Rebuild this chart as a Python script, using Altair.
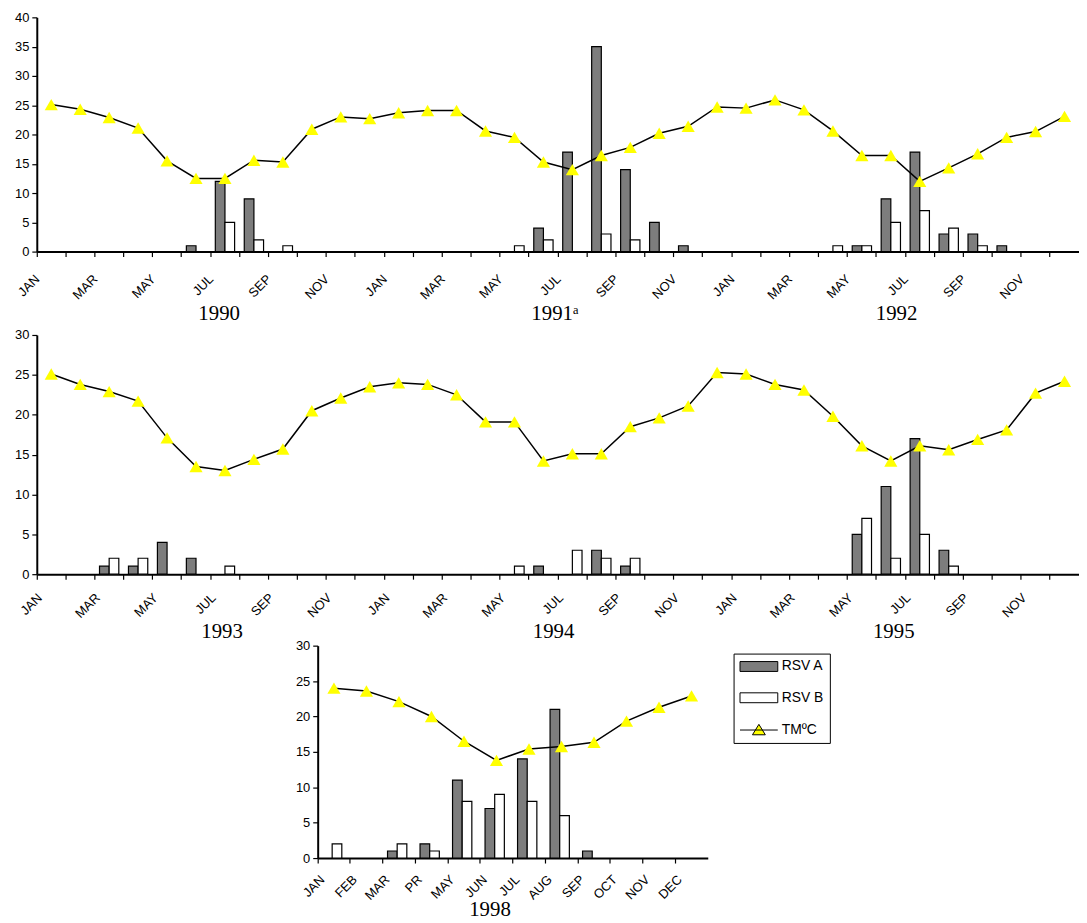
import altair as alt
import pandas as pd

# ---------------- data ----------------
MONTHS = ["JAN", "FEB", "MAR", "APR", "MAY", "JUN", "JUL", "AUG", "SEP", "OCT", "NOV", "DEC"]
MONTHS_1998 = ["JAN", "FEB", "MAR", "PR", "MAY", "JUN", "JUL", "AUG", "SEP", "OCT", "NOV", "DEC"]
SERIES = ["RSV A", "RSV B", "TMºC"]

# Panel 1: 1990-1992 (36 months)
years_top = ["1990", "1991ᵃ", "1992"]
year_pos_top = [6.3, 17.9, 29.7]          # month units along the axis
temp_top = [25.1, 24.3, 22.9, 21.1, 15.5, 12.5, 12.5, 15.6, 15.3, 20.9, 23.0, 22.7,
            23.7, 24.1, 24.1, 20.6, 19.5, 15.3, 14.0, 16.4, 17.8, 20.2, 21.4, 24.7,
            24.5, 25.9, 24.2, 20.6, 16.4, 16.4, 12.0, 14.3, 16.7, 19.5, 20.5, 23.1]
rsva_top = [0, 0, 0, 0, 0, 1, 12, 9, 0, 0, 0, 0,
            0, 0, 0, 0, 0, 4, 17, 35, 14, 5, 1, 0,
            0, 0, 0, 0, 1, 9, 17, 3, 3, 1, 0, 0]
rsvb_top = [0, 0, 0, 0, 0, 0, 5, 2, 1, 0, 0, 0,
            0, 0, 0, 0, 1, 2, 0, 3, 2, 0, 0, 0,
            0, 0, 0, 1, 1, 5, 7, 4, 1, 0, 0, 0]

# Panel 2: 1993-1995 (36 months)
years_mid = ["1993", "1994", "1995"]
year_pos_mid = [6.4, 17.85, 29.6]
temp_mid = [25.1, 23.8, 22.9, 21.7, 17.1, 13.5, 13.0, 14.4, 15.7, 20.5, 22.1, 23.5,
            24.0, 23.8, 22.5, 19.1, 19.1, 14.2, 15.1, 15.1, 18.5, 19.6, 21.1, 25.3,
            25.1, 23.8, 23.1, 19.8, 16.1, 14.2, 16.1, 15.6, 16.9, 18.1, 22.7, 24.2]
rsva_mid = [0, 0, 1, 1, 4, 2, 0, 0, 0, 0, 0, 0,
            0, 0, 0, 0, 0, 1, 0, 3, 1, 0, 0, 0,
            0, 0, 0, 0, 5, 11, 17, 3, 0, 0, 0, 0]
rsvb_mid = [0, 0, 2, 2, 0, 0, 1, 0, 0, 0, 0, 0,
            0, 0, 0, 0, 1, 0, 3, 2, 2, 0, 0, 0,
            0, 0, 0, 0, 7, 2, 5, 1, 0, 0, 0, 0]

# Panel 3: 1998 (12 months)
years_bot = ["1998"]
year_pos_bot = [5.3]
temp_bot = [24.0, 23.6, 22.1, 20.0, 16.5, 13.8, 15.4, 15.75, 16.35, 19.35, 21.3, 22.9]
rsva_bot = [0, 0, 1, 2, 11, 7, 14, 21, 1, 0, 0, 0]
rsvb_bot = [2, 0, 2, 1, 8, 9, 8, 6, 0, 0, 0, 0]

# ---------------- styling ----------------
FILL_SCALE = alt.Scale(domain=SERIES, range=["#7d7d7d", "#ffffff", "#ffff00"])
STROKE_SCALE = alt.Scale(domain=SERIES, range=["black", "black", "black"])
RECT_PATH = "M-3.17,-0.83H3.17V0.83H-3.17Z"
LINETRI_PATH = "M-3.17,0H3.17M0,-0.95L1.08,0.8L-1.08,0.8Z"
SHAPE_SCALE = alt.Scale(domain=SERIES, range=[RECT_PATH, RECT_PATH, LINETRI_PATH])
SANS = "Liberation Sans"
SERIF = "Liberation Serif"


def panel(temps, rsva, rsvb, names, every, width, height, ymax, top_gap,
          year_labels, year_pos, year_dy, label_pad, label_off, legend=None):
    n = len(temps)
    idx = list(range(1, n + 1))
    rows = []
    for i, a, b in zip(idx, rsva, rsvb):
        if a:
            rows.append({"m": i, "series": "RSV A", "v": a})
        if b:
            rows.append({"m": i, "series": "RSV B", "v": b})
    bars_df = pd.DataFrame(rows)
    temp_df = pd.DataFrame({"m": idx, "t": temps})
    years_df = pd.DataFrame({"pos": year_pos, "label": year_labels})

    names_js = "[" + ",".join("'%s'" % s for s in names) + "]"
    label_expr = "(datum.value - 1) %% %d == 0 ? %s[(datum.value - 1) %% 12] : ''" % (every, names_js)

    xscale = alt.Scale(domain=idx, paddingInner=0, paddingOuter=0)
    xaxis = alt.Axis(title=None, bandPosition=0, labelAngle=-45, labelAlign="right",
                     labelBaseline="top", labelPadding=label_pad, labelOffset=label_off,
                     labelExpr=label_expr, labelFont=SANS, labelFontSize=13,
                     labelColor="black", tickSize=5, tickWidth=1.2, tickColor="black",
                     domainColor="black", domainWidth=2, grid=False)
    yscale = alt.Scale(domain=[0, ymax], nice=False, zero=True, range=[height, top_gap])
    yaxis = alt.Axis(title=None, values=list(range(0, ymax + 1, 5)), labelFont=SANS,
                     labelFontSize=13, labelColor="black", labelPadding=3, tickSize=5,
                     tickWidth=1.2, tickColor="black", domainColor="black",
                     domainWidth=2, grid=False)

    bars = alt.Chart(bars_df).mark_bar(stroke="black", strokeWidth=1.2).encode(
        x=alt.X("m:O", scale=xscale, axis=xaxis),
        xOffset=alt.XOffset("series:N", scale=alt.Scale(domain=["RSV A", "RSV B"],
                                                         paddingInner=0, paddingOuter=0.5)),
        y=alt.Y("v:Q", scale=yscale, axis=yaxis),
        fill=alt.Fill("series:N", scale=FILL_SCALE, legend=legend),
    )
    line = alt.Chart(temp_df).mark_line(color="black", strokeWidth=1.5).encode(
        x=alt.X("m:O", scale=xscale, axis=xaxis),
        y=alt.Y("t:Q", scale=yscale, axis=yaxis),
    )
    pts = alt.Chart(temp_df).mark_point(shape="triangle-up", filled=True, fill="#ffff00",
                                        strokeWidth=0, size=175, opacity=1).encode(
        x=alt.X("m:O", scale=xscale, axis=xaxis),
        y=alt.Y("t:Q", scale=yscale, axis=yaxis),
    )
    layers = [bars, line, pts]
    if legend is not None:
        leg = alt.Chart(pd.DataFrame({"series": SERIES})).mark_point(
            filled=True, opacity=0, strokeWidth=1).encode(
            x=alt.value(0), y=alt.value(0),
            shape=alt.Shape("series:N", scale=SHAPE_SCALE, legend=legend),
            fill=alt.Fill("series:N", scale=FILL_SCALE, legend=legend),
            stroke=alt.Stroke("series:N", scale=STROKE_SCALE, legend=legend),
        )
        layers.append(leg)
    main = alt.layer(*layers)
    yrs = alt.Chart(years_df).mark_text(font=SERIF, fontSize=21, baseline="alphabetic",
                                        align="center", color="black").encode(
        x=alt.X("pos:Q", scale=alt.Scale(domain=[0, n], nice=False, zero=False), axis=None),
        y=alt.value(height + year_dy),
        text="label:N",
    )
    return alt.layer(main, yrs).resolve_scale(x="independent").properties(width=width, height=height)


legend = alt.Legend(
    title=None, orient="none", legendX=419, legendY=8,
    symbolSize=144, symbolOffset=12.5, symbolStrokeWidth=1,
    symbolOpacity=1, labelFont=SANS, labelFontSize=14, labelColor="black", labelOffset=16,
    strokeColor="black", padding=6, rowPadding=17.5,
)

top = panel(temp_top, rsva_top, rsvb_top, MONTHS, 2, 1050, 236, 40, 0,
            years_top, year_pos_top, 69, 16, -18)
mid = panel(temp_mid, rsva_mid, rsvb_mid, MONTHS, 2, 1050, 253, 30, 12,
            years_mid, year_pos_mid, 64, 12, -15.5)
bot = panel(temp_bot, rsva_bot, rsvb_bot, MONTHS_1998, 1, 393, 214, 30, 0,
            years_bot, year_pos_bot, 58, 10, -15.7, legend=legend)

spacer = alt.Chart(pd.DataFrame({"a": [0]})).mark_point(opacity=0).encode(
    x=alt.value(0), y=alt.value(0)).properties(width=263, height=10)
bottom_row = alt.hconcat(spacer, bot, spacing=20, bounds="flush").resolve_scale(
    fill="independent", shape="independent", stroke="independent").resolve_legend(
    fill="independent", shape="independent", stroke="independent")

chart = alt.vconcat(top, mid, bottom_row, spacing=72, bounds="flush").resolve_scale(
    fill="independent", shape="independent", stroke="independent").resolve_legend(
    fill="independent", shape="independent", stroke="independent").properties(
    padding={"left": 6, "top": 0, "right": 0, "bottom": 0}, background="white"
).configure_view(stroke=None)

chart.save("out.html", embed_options={"renderer": "svg", "actions": False})
